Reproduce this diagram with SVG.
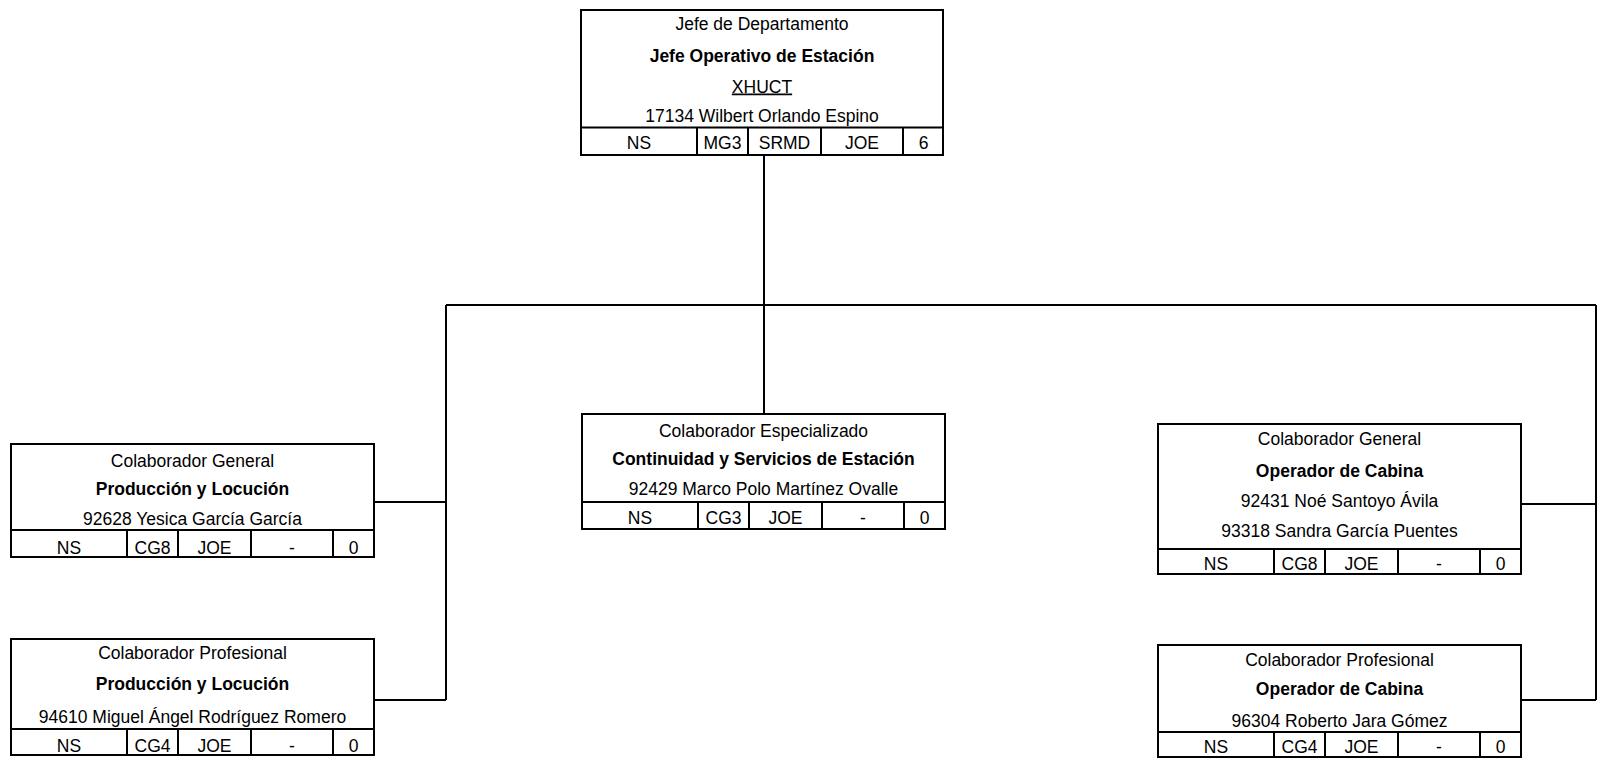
<svg xmlns="http://www.w3.org/2000/svg" width="1599" height="764" viewBox="0 0 1599 764">
<style>
.box{fill:#fff;stroke:#000;stroke-width:2}
.div{stroke:#000;stroke-width:2;fill:none}
.conn{stroke:#000;stroke-width:2;fill:none}
.t{font-family:"Liberation Sans",Arial,sans-serif;font-size:17.5px;text-anchor:middle;fill:#000}
.b{font-weight:bold}
.u{text-decoration:underline}
</style>
<rect width="1599" height="764" fill="#fff"/>
<g id="connectors">
<path class="conn" d="M764 155V414M446 305H1596M446 305V700M374 502H446M374 700H446M1596 305V700M1521 504H1596M1521 700H1596"/>
</g>
<g id="n-jefe">
<rect class="box" x="581" y="10" width="362" height="145"/>
<path class="div" d="M581 127.5H943M697 127.5V155M748 127.5V155M821 127.5V155M903 127.5V155"/>
<text class="t" x="762" y="29.5">Jefe de Departamento</text>
<text class="t b" x="762" y="61.5">Jefe Operativo de Estación</text>
<text class="t u" x="762" y="92.5">XHUCT</text>
<text class="t" x="762" y="122">17134 Wilbert Orlando Espino</text>
<text class="t" x="639" y="149">NS</text>
<text class="t" x="722.5" y="149">MG3</text>
<text class="t" x="784.5" y="149">SRMD</text>
<text class="t" x="862" y="149">JOE</text>
<text class="t" x="923.5" y="149">6</text>
</g>
<g id="n-continuidad">
<rect class="box" x="582" y="414" width="363" height="115"/>
<path class="div" d="M582 502H945M698 502V529M749 502V529M822 502V529M904 502V529"/>
<text class="t" x="763.5" y="437">Colaborador Especializado</text>
<text class="t b" x="763.5" y="465">Continuidad y Servicios de Estación</text>
<text class="t" x="763.5" y="495">92429 Marco Polo Martínez Ovalle</text>
<text class="t" x="640" y="524">NS</text>
<text class="t" x="723.5" y="524">CG3</text>
<text class="t" x="785.5" y="524">JOE</text>
<text class="t" x="863" y="524">-</text>
<text class="t" x="924.5" y="524">0</text>
</g>
<g id="n-produccion-general">
<rect class="box" x="11" y="444" width="363" height="113"/>
<path class="div" d="M11 530H374M127 530V557M178 530V557M251 530V557M333 530V557"/>
<text class="t" x="192.5" y="467">Colaborador General</text>
<text class="t b" x="192.5" y="495">Producción y Locución</text>
<text class="t" x="192.5" y="524.5">92628 Yesica García García</text>
<text class="t" x="69" y="553.5">NS</text>
<text class="t" x="152.5" y="553.5">CG8</text>
<text class="t" x="214.5" y="553.5">JOE</text>
<text class="t" x="292" y="553.5">-</text>
<text class="t" x="353.5" y="553.5">0</text>
</g>
<g id="n-produccion-profesional">
<rect class="box" x="11" y="639" width="363" height="116"/>
<path class="div" d="M11 729H374M127 729V755M178 729V755M251 729V755M333 729V755"/>
<text class="t" x="192.5" y="658.5">Colaborador Profesional</text>
<text class="t b" x="192.5" y="690">Producción y Locución</text>
<text class="t" x="192.5" y="723">94610 Miguel Ángel Rodríguez Romero</text>
<text class="t" x="69" y="752">NS</text>
<text class="t" x="152.5" y="752">CG4</text>
<text class="t" x="214.5" y="752">JOE</text>
<text class="t" x="292" y="752">-</text>
<text class="t" x="353.5" y="752">0</text>
</g>
<g id="n-cabina-general">
<rect class="box" x="1158" y="424" width="363" height="150"/>
<path class="div" d="M1158 549H1521M1274 549V574M1325 549V574M1398 549V574M1480 549V574"/>
<text class="t" x="1339.5" y="445">Colaborador General</text>
<text class="t b" x="1339.5" y="476.5">Operador de Cabina</text>
<text class="t" x="1339.5" y="506.5">92431 Noé Santoyo Ávila</text>
<text class="t" x="1339.5" y="536.5">93318 Sandra García Puentes</text>
<text class="t" x="1216" y="570">NS</text>
<text class="t" x="1299.5" y="570">CG8</text>
<text class="t" x="1361.5" y="570">JOE</text>
<text class="t" x="1439" y="570">-</text>
<text class="t" x="1500.5" y="570">0</text>
</g>
<g id="n-cabina-profesional">
<rect class="box" x="1158" y="645" width="363" height="112"/>
<path class="div" d="M1158 732H1521M1274 732V757M1325 732V757M1398 732V757M1480 732V757"/>
<text class="t" x="1339.5" y="665.5">Colaborador Profesional</text>
<text class="t b" x="1339.5" y="695">Operador de Cabina</text>
<text class="t" x="1339.5" y="726.5">96304 Roberto Jara Gómez</text>
<text class="t" x="1216" y="753">NS</text>
<text class="t" x="1299.5" y="753">CG4</text>
<text class="t" x="1361.5" y="753">JOE</text>
<text class="t" x="1439" y="753">-</text>
<text class="t" x="1500.5" y="753">0</text>
</g>
</svg>
